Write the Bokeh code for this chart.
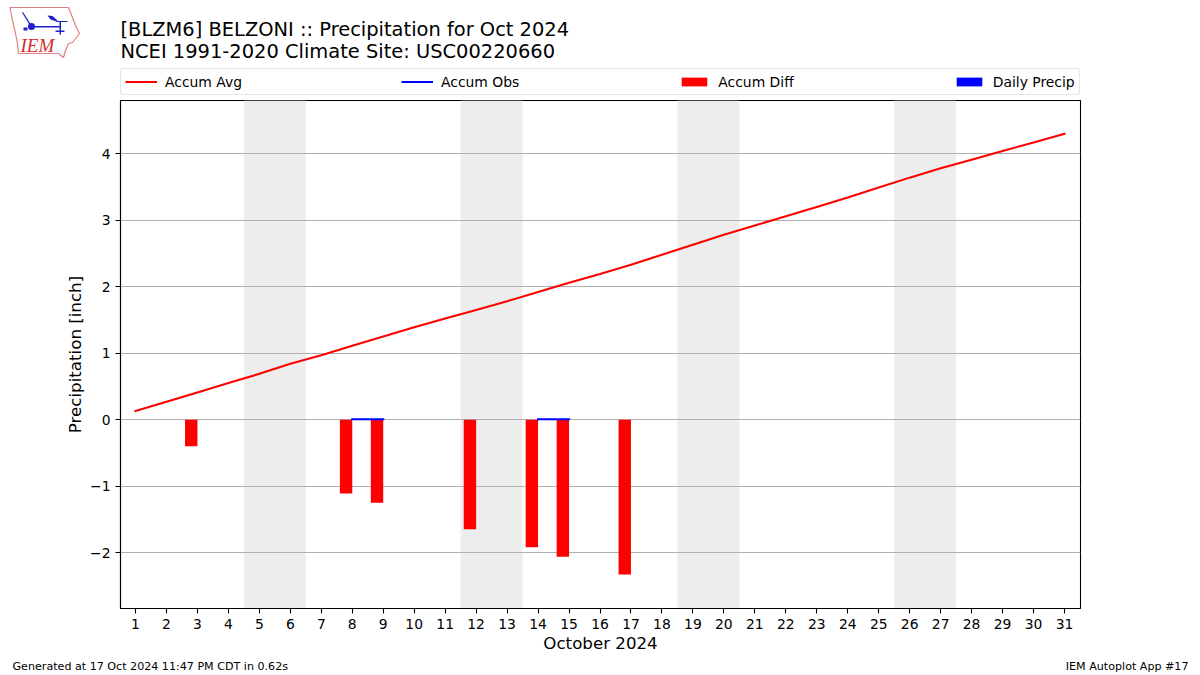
from bokeh.plotting import figure
from bokeh.embed import file_html
from bokeh.resources import INLINE
from bokeh.layouts import column
from bokeh.core.properties import value
from bokeh.models import (Range1d, Legend, LegendItem, BoxAnnotation, FixedTicker, ColumnDataSource)

days = list(range(1, 32))
accum_avg = [0.13, 0.27, 0.41, 0.55, 0.69, 0.84, 0.97, 1.11, 1.25, 1.39, 1.52, 1.65, 1.78, 1.92, 2.06, 2.19,
             2.33, 2.48, 2.63, 2.78, 2.92, 3.06, 3.20, 3.34, 3.49, 3.64, 3.78, 3.91, 4.04, 4.17, 4.30]
obs_days = [3, 8, 9, 12, 14, 15, 17]
accum_diff = [-0.40, -1.11, -1.25, -1.65, -1.92, -2.06, -2.33]
daily_precip = [0, 0, 0, 0, 0, 0, 0]
obs_segments_x = [[8, 9], [14, 15]]
obs_segments_y = [[0.005, 0.005], [0.005, 0.005]]
weekends = [(4.5, 6.5), (11.5, 13.5), (18.5, 20.5), (25.5, 27.5)]
y_ticks = [-2, -1, 0, 1, 2, 3, 4]
title_lines = ["[BLZM6] BELZONI :: Precipitation for Oct 2024", "NCEI 1991-2020 Climate Site: USC00220660"]
footer_left = "Generated at 17 Oct 2024 11:47 PM CDT in 0.62s"
footer_right = "IEM Autoplot App #17"
legend_labels = ["Accum Avg", "Accum Obs", "Accum Diff", "Daily Precip"]
FONT = "DejaVu Sans"
RED, BLUE = "#ff0000", "#0000ff"
HEADER_H, MAIN_H, FOOTER_H = 98, 557, 20


def pixel_figure(height, top):
    """A strip of the page whose data coordinates are the page's own pixels."""
    f = figure(width=1200, height=height, output_backend="svg", toolbar_location=None,
               x_range=Range1d(0, 1200), y_range=Range1d(top + height, top),
               x_axis_location=None, y_axis_location=None, min_border=0, margin=0,
               outline_line_color=None, background_fill_color="white", border_fill_color="white")
    f.xgrid.visible = False
    f.ygrid.visible = False
    return f


# ---- main plot
p = figure(width=1200, height=MAIN_H, output_backend="svg", toolbar_location=None,
           x_range=Range1d(0.516, 31.516), y_range=Range1d(-2.84, 4.80),
           min_border_left=120, min_border_right=120, min_border_top=2, min_border_bottom=46,
           margin=0, background_fill_color="white", border_fill_color="white")
p.outline_line_color = "black"
p.outline_line_width = 1.1
p.xgrid.visible = False
p.ygrid.grid_line_color = "#b0b0b0"
p.ygrid.grid_line_width = 1.1
p.ygrid.ticker = FixedTicker(ticks=y_ticks)

for ax, ticks in ((p.xaxis[0], days), (p.yaxis[0], y_ticks)):
    ax.ticker = FixedTicker(ticks=ticks)
    ax.major_tick_in = 0
    ax.major_tick_out = 5
    ax.major_tick_line_width = 1.1
    ax.minor_tick_line_color = None
    ax.axis_line_width = 1.1
    ax.major_label_text_font = FONT
    ax.major_label_text_font_size = "13.9px"
    ax.major_label_text_color = "black"
    ax.axis_label_text_font = FONT
    ax.axis_label_text_font_size = "16.67px"
    ax.axis_label_text_font_style = "normal"
    ax.axis_label_text_color = "black"
p.xaxis[0].axis_label = "October 2024"
p.yaxis[0].axis_label = "Precipitation [inch]"
p.yaxis[0].major_label_overrides = {-2: "\u22122", -1: "\u22121"}
p.yaxis[0].major_label_orientation = "horizontal"
p.xaxis[0].axis_label_standoff = 2
p.yaxis[0].axis_label_standoff = 2

for a, b in weekends:
    p.add_layout(BoxAnnotation(left=a, right=b, fill_color="#ededed", fill_alpha=1, line_color=None, level="image"))

src = ColumnDataSource(dict(right=obs_days, left=[d - 0.4 for d in obs_days], top=[0] * len(obs_days), bottom=accum_diff))
p.quad(left="left", right="right", top="top", bottom="bottom", source=src, fill_color=RED, line_color=None)
p.quad(left=obs_days, right=[d + 0.4 for d in obs_days], top=daily_precip, bottom=daily_precip,
       fill_color=BLUE, line_color=None)
p.line(days, accum_avg, line_color=RED, line_width=2.08, line_cap="square")
p.multi_line(obs_segments_x, obs_segments_y, line_color=BLUE, line_width=2.08, line_cap="square")

# ---- header: logo, titles, legend
h = pixel_figure(HEADER_H, 0)


def htext(fig, x, y, s, size, align="left", color="black", font=FONT, style="normal"):
    fig.text([x], [y], text=[s], text_font=value(font), text_font_size=value(size), text_color=color,
             text_align=align, text_baseline="alphabetic", text_font_style=style)


htext(h, 120, 29, title_lines[0], "19.44px")
htext(h, 120, 51, title_lines[1], "19.44px")

# legend samples lie outside the strip's range: only their keys show
off = [-50, -40]
k_avg = h.line(off, off, line_color=RED, line_width=2.08)
k_obs = h.line(off, off, line_color=BLUE, line_width=2.08)
k_diff = h.quad(left=[-50], right=[-40], top=[-50], bottom=[-40], fill_color=RED, line_color=None)
k_prc = h.quad(left=[-50], right=[-40], top=[-50], bottom=[-40], fill_color=BLUE, line_color=None)
legend = Legend(items=[LegendItem(label=t, renderers=[r]) for t, r in zip(legend_labels, [k_avg, k_obs, k_diff, k_prc])],
                orientation="horizontal", location=(120, 3), spacing=159, padding=4, margin=0,
                glyph_width=32, glyph_height=11, label_standoff=8, label_height=17,
                label_text_font=FONT, label_text_font_size="13.9px", label_text_color="black",
                border_line_color="#cccccc", border_line_width=1.1, background_fill_alpha=0.8)
if "border_radius" in legend.properties():
    legend.border_radius = 3
h.add_layout(legend)

# IEM logo
LOGO_BLUE = "#2020d0"
h.patch([9.5, 68, 70, 75, 79, 72, 68, 65, 63, 58, 18, 17, 15, 12],
        [7, 7, 12, 25, 33, 42, 43, 50, 57, 53, 53, 43, 33, 20],
        fill_alpha=0, line_color="#e08080", line_width=1.2)
for xs, ys in (([31, 60, 60, 31], [25.5, 25.5, 27, 27]),
               ([47, 52, 57, 56, 50], [15, 15.5, 20, 21, 19]),
               ([56, 67, 67, 56], [20.5, 20.5, 21.5, 21.5]),
               ([59, 60.5, 60.5, 59], [21, 21, 34, 34]),
               ([21.5, 22.5, 31, 30], [12, 11.5, 25, 26]),
               ([55, 64, 64, 55], [30, 30, 31.5, 31.5]),
               ([23, 27, 27, 23], [27, 27, 30, 30])):
    h.patch(xs, ys, fill_color=LOGO_BLUE, line_color=None)
h.scatter([31], [26], size=7, fill_color=LOGO_BLUE, line_color=None)
htext(h, 20, 45, "IEM", "19px", color="#d42a30", font="Liberation Serif", style="italic")

# ---- footer
f = pixel_figure(FOOTER_H, HEADER_H + MAIN_H)
htext(f, 12, 666, footer_left, "11.11px")
htext(f, 1188, 666, footer_right, "11.11px", align="right")

page = column(column(h, spacing=0, margin=0), p, column(f, spacing=0, margin=0), spacing=0, margin=0)
open("out.html", "w").write(file_html(page, INLINE))
